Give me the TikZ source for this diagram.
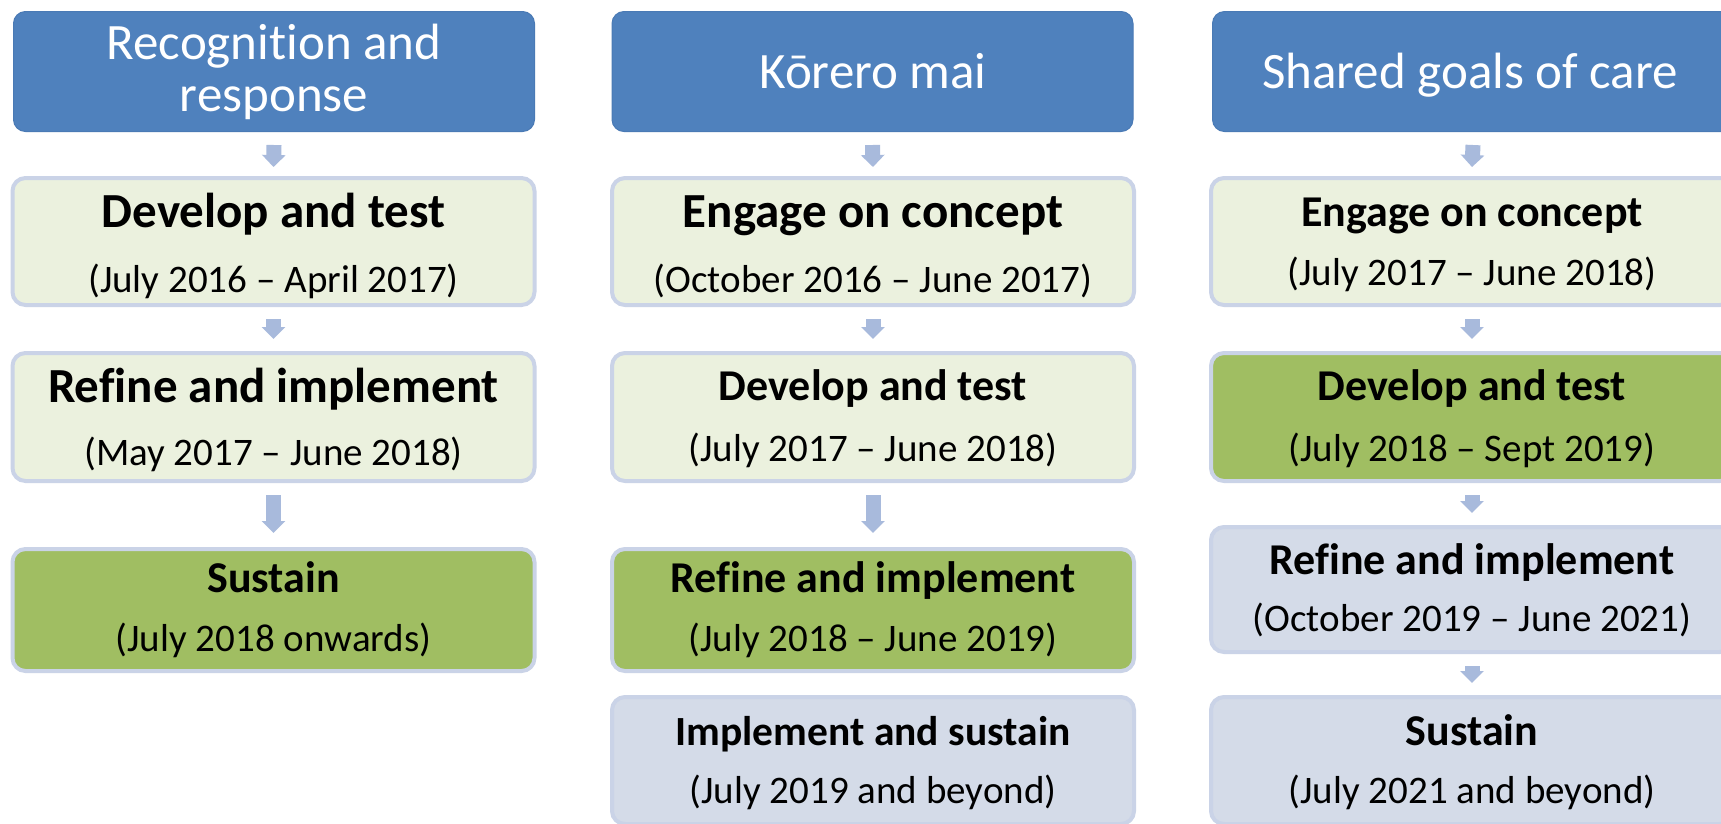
\documentclass[tikz,border=0pt]{standalone}
\usepackage{fontspec}
\setmainfont{Carlito}[Ligatures=NoCommon]
\usetikzlibrary{arrows.meta}
\definecolor{hdrblue}{HTML}{4F81BD}
\definecolor{hdredge}{HTML}{4A7AB5}
\definecolor{lgreen}{HTML}{EBF1DE}
\definecolor{dgreen}{HTML}{A0BE62}
\definecolor{bgray}{HTML}{D4DBE8}
\definecolor{bordc}{HTML}{CAD3E7}
\definecolor{arrc}{HTML}{A8BADC}
\begin{document}
\begin{tikzpicture}[x=1pt,y=-1pt,
  hdr/.style={rectangle,rounded corners=12pt,fill=hdrblue,draw=hdredge,line width=1pt,inner sep=0pt,minimum width=521pt,minimum height=120pt},
  stagebox/.style={rectangle,rounded corners=13pt,draw=bordc,line width=4pt,inner sep=0pt,minimum width=522pt},
  pale/.style={stagebox,fill=lgreen},
  strong/.style={stagebox,fill=dgreen},
  grey/.style={stagebox,fill=bgray},
  htx/.style={anchor=base,inner sep=0pt,text=white,font=\fontsize{51}{61}\selectfont},
  ttl/.style={anchor=base,inner sep=0pt,font=\fontsize{44}{53}\selectfont\bfseries},
  bigttl/.style={anchor=base,inner sep=0pt,font=\fontsize{49}{59}\selectfont\bfseries},
  smttl/.style={anchor=base,inner sep=0pt,font=\fontsize{41.5}{50}\selectfont\bfseries},
  dat/.style={anchor=base,inner sep=0pt,font=\fontsize{39}{47}\selectfont},
  arr/.style={draw=arrc,line width=15pt,-{Triangle[width=23pt,length=12pt]}}
]
\useasboundingbox (0,0) rectangle (1721,823);
\fill[white] (0,0) rectangle (1721,823);

% ---------- column 1 ----------
\node[hdr] (h1) at (274,71.5) {};
\node[htx] (h1a) at (274,59) {Recognition and};
\node[htx] (h1b) at (274,111) {response};

\node[pale,minimum height=127pt] (a1) at (273.5,241.5) {};
\node[bigttl] (a1t) at (273.5,227) {Develop and test};
\node[dat] (a1d) at (273.5,292) {(July 2016 – April 2017)};

\node[pale,minimum height=128pt] (a2) at (273.5,417) {};
\node[bigttl] (a2t) at (273.5,402) {Refine and implement};
\node[dat] (a2d) at (273.5,465) {(May 2017 – June 2018)};

\node[strong,minimum height=122pt] (a3) at (273.5,610) {};
\node[ttl] (a3t) at (273.5,592) {Sustain};
\node[dat] (a3d) at (273.5,651) {(July 2018 onwards)};

\draw[arr] ([yshift=-13pt]h1.south) -- ([yshift=9pt]a1.north);
\draw[arr] ([yshift=-12pt]a1.south) -- ([yshift=12pt]a2.north);
\draw[arr] ([yshift=-12pt]a2.south) -- ([yshift=14pt]a3.north);

% ---------- column 2 ----------
\node[hdr] (h2) at (872.5,71.5) {};
\node[htx] (h2a) at (873,88) {Kōrero mai};

\node[pale,minimum height=127pt] (b1) at (873,241.5) {};
\node[bigttl] (b1t) at (873,227) {Engage on concept};
\node[dat] (b1d) at (873,292) {(October 2016 – June 2017)};

\node[pale,minimum height=128pt] (b2) at (873,417) {};
\node[ttl] (b2t) at (873,400) {Develop and test};
\node[dat] (b2d) at (873,461) {(July 2017 – June 2018)};

\node[strong,minimum height=122pt] (b3) at (873,610) {};
\node[ttl] (b3t) at (873,592) {Refine and implement};
\node[dat] (b3d) at (873,651) {(July 2018 – June 2019)};

\node[grey,minimum height=127pt] (b4) at (873,760.5) {};
\node[smttl] (b4t) at (873,745) {Implement and sustain};
\node[dat] (b4d) at (873,803) {(July 2019 and beyond)};

\draw[arr] ([yshift=-13pt]h2.south) -- ([yshift=9pt]b1.north);
\draw[arr] ([yshift=-12pt]b1.south) -- ([yshift=12pt]b2.north);
\draw[arr] ([yshift=-12pt]b2.south) -- ([yshift=14pt]b3.north);

% ---------- column 3 ----------
\node[hdr] (h3) at (1473,71.5) {};
\node[htx] (h3a) at (1470,88) {Shared goals of care};

\node[pale,minimum height=127pt] (c1) at (1472,241.5) {};
\node[ttl] (c1t) at (1472,226) {Engage on concept};
\node[dat] (c1d) at (1472,285) {(July 2017 – June 2018)};

\node[strong,minimum height=128pt] (c2) at (1472,417) {};
\node[ttl] (c2t) at (1472,400) {Develop and test};
\node[dat] (c2d) at (1472,461) {(July 2018 – Sept 2019)};

\node[grey,minimum height=125pt] (c3) at (1472,589.5) {};
\node[ttl] (c3t) at (1472,574) {Refine and implement};
\node[dat] (c3d) at (1472,631) {(October 2019 – June 2021)};

\node[grey,minimum height=127pt] (c4) at (1472,760.5) {};
\node[ttl] (c4t) at (1472,745) {Sustain};
\node[dat] (c4d) at (1472,803) {(July 2021 and beyond)};

\draw[arr] ([yshift=-13pt]h3.south) -- ([yshift=9pt]c1.north);
\draw[arr] ([yshift=-12pt]c1.south) -- ([yshift=12pt]c2.north);
\draw[arr] ([yshift=-12pt]c2.south) -- ([yshift=12pt]c3.north);
\draw[arr] ([yshift=-12pt]c3.south) -- ([yshift=12pt]c4.north);
\end{tikzpicture}
\end{document}
